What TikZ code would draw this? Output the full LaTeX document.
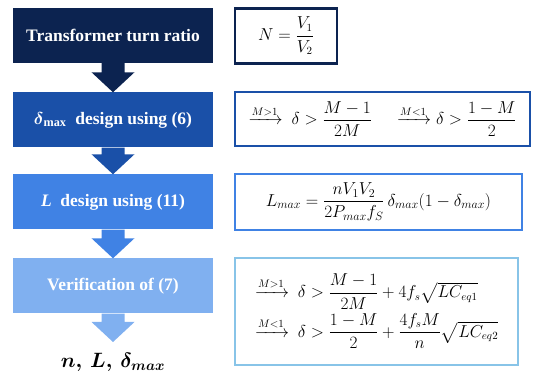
\documentclass[tikz,border=0pt]{standalone}
\usepackage{amsmath}
\usepackage{fontspec}
\setmainfont{Liberation Serif}
\usepackage{tikz}
\usetikzlibrary{calc}

\definecolor{navy}{HTML}{0C2350}
\definecolor{blueA}{HTML}{1A50A8}
\definecolor{blueB}{HTML}{4082E4}
\definecolor{blueC}{HTML}{80B0F0}
\definecolor{skyC}{HTML}{88C4E8}

% block arrow from the bottom of one step to the top of the next
\newcommand{\flowarrow}[3]{%
\fill[#3] ($(#1)+(-11.5pt,0)$) -- ($(#2)+(-11.5pt,20pt)$) -- ($(#2)+(-21.5pt,20pt)$) -- (#2)
  -- ($(#2)+(21.5pt,20pt)$) -- ($(#2)+(11.5pt,20pt)$) -- ($(#1)+(11.5pt,0)$) -- cycle;}

\begin{document}
\begin{tikzpicture}[
  stepbox/.style = {minimum width=200pt, minimum height=55pt, inner sep=0pt, text=white,
                    font=\bfseries\fontsize{17.5}{20}\selectfont},
  eqbox/.style = {draw, line width=2.5pt, fill=white, inner sep=0pt,
                  font=\fontsize{16}{19}\selectfont}
]
\useasboundingbox (0,0) rectangle (536pt,-379pt);

\node[stepbox, fill=navy] (s1) at (113pt,-35.5pt) {Transformer turn ratio};
\node[stepbox, fill=blueA] (s2) at (113pt,-120pt) {$\boldsymbol{\delta}_{\mathbf{max}}$~ design using (6)};
\node[stepbox, fill=blueB] (s3) at (113pt,-202pt) {\textit{L}~ design using (11)};
\node[stepbox, fill=blueC] (s4) at (113pt,-286pt) {Verification of (7)};
\coordinate (tip) at (113pt,-342pt);
\node[font=\fontsize{20}{24}\selectfont] (res) at (113pt,-362pt) {$\boldsymbol{n,\,L,\,\delta_{max}}$};

\node[eqbox, draw=navy, minimum width=102pt, minimum height=55pt] (e1) at (286pt,-36pt)
  {$N=\dfrac{V_1}{V_2}$};
\node[eqbox, draw=blueA, minimum width=295pt, minimum height=54pt] (e2) at (382.5pt,-119pt)
  {$\xrightarrow{M>1}\ \delta>\dfrac{M-1}{2M}\quad\ \xrightarrow{M<1}\delta>\dfrac{1-M}{2}$};
\node[eqbox, draw=blueB, minimum width=287pt, minimum height=56pt,
      font=\fontsize{17.5}{20}\selectfont] (e3) at (378.5pt,-202pt)
  {$L_{max}=\dfrac{nV_1V_2}{2P_{max}f_S}\,\delta_{max}(1-\delta_{max})$};
\node[eqbox, draw=skyC, minimum width=283pt, minimum height=107pt, align=left] (e4) at (376.5pt,-311.5pt)
  {$\xrightarrow{M>1}\ \delta>\dfrac{M-1}{2M}+4f_s\sqrt{LC_{eq1}}$\\[3pt]
   $\xrightarrow{M<1}\ \delta>\dfrac{1-M}{2}+\dfrac{4f_sM}{n}\sqrt{LC_{eq2}}$};

\flowarrow{s1.south}{s2.north}{navy}
\flowarrow{s2.south}{s3.north}{blueA}
\flowarrow{s3.south}{s4.north}{blueB}
\flowarrow{s4.south}{tip}{blueC}

\end{tikzpicture}
\end{document}
